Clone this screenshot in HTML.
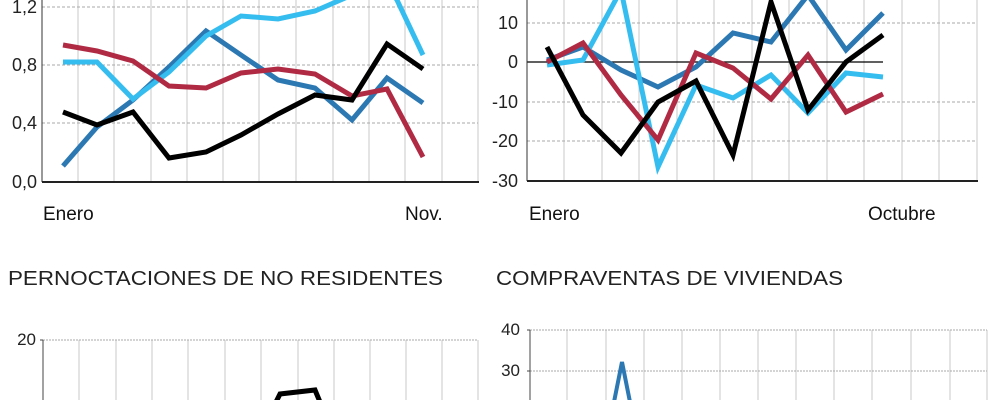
<!DOCTYPE html>
<html><head><meta charset="utf-8"><style>
html,body{margin:0;padding:0;background:#fff;}
svg{display:block;font-family:"Liberation Sans",Arial,sans-serif;}
</style></head><body>
<svg width="990" height="400" viewBox="0 0 990 400" xmlns="http://www.w3.org/2000/svg">
<g stroke="#c8c8c8" stroke-width="1">
<line x1="78" y1="0" x2="78" y2="182"/><line x1="114" y1="0" x2="114" y2="182"/><line x1="151" y1="0" x2="151" y2="182"/><line x1="187" y1="0" x2="187" y2="182"/><line x1="223" y1="0" x2="223" y2="182"/><line x1="259" y1="0" x2="259" y2="182"/><line x1="296" y1="0" x2="296" y2="182"/><line x1="333" y1="0" x2="333" y2="182"/><line x1="369" y1="0" x2="369" y2="182"/><line x1="405" y1="0" x2="405" y2="182"/><line x1="442" y1="0" x2="442" y2="182"/><line x1="478" y1="0" x2="478" y2="182"/>
</g>
<g stroke="#aaa" stroke-width="1" stroke-dasharray="3,2">
<line x1="42" y1="7" x2="478" y2="7"/><line x1="42" y1="65" x2="478" y2="65"/><line x1="42" y1="123" x2="478" y2="123"/>
</g>
<line x1="42" y1="0" x2="42" y2="182" stroke="#333" stroke-width="1"/>
<line x1="42" y1="182" x2="479" y2="182" stroke="#222" stroke-width="2"/>
<g font-size="18" fill="#222" text-anchor="end">
<text x="37" y="13">1,2</text><text x="37" y="71">0,8</text><text x="37" y="129">0,4</text><text x="37" y="188">0,0</text>
</g>
<g fill="none" stroke-width="5">
<polyline stroke="#2b78b3" points="63,166 97,127 133,100 169,67 206,31 241,55 278,80 315,88 352,120 387,78 423,103"/>
<polyline stroke="#36bdf0" points="63,62 97,62 133,99 169,72 206,36 241,16 278,19 315,11 352,-5 387,-15 397,0 423,55"/>
<polyline stroke="#b02a44" points="63,45 97,51 133,61 169,86 206,88 241,73 278,69 315,74 352,96 387,89 423,157"/>
<polyline stroke="#000" points="63,112 97,125 133,112 169,158 206,152 241,135 278,114 315,95 352,100 387,44 423,69"/>
</g>
<text x="43" y="220" font-size="19" fill="#111">Enero</text>
<text x="405" y="220" font-size="19" fill="#111">Nov.</text>

<g stroke="#c8c8c8" stroke-width="1">
<line x1="564" y1="0" x2="564" y2="181"/><line x1="602" y1="0" x2="602" y2="181"/><line x1="639" y1="0" x2="639" y2="181"/><line x1="677" y1="0" x2="677" y2="181"/><line x1="714" y1="0" x2="714" y2="181"/><line x1="752" y1="0" x2="752" y2="181"/><line x1="789" y1="0" x2="789" y2="181"/><line x1="827" y1="0" x2="827" y2="181"/><line x1="864" y1="0" x2="864" y2="181"/><line x1="902" y1="0" x2="902" y2="181"/><line x1="939" y1="0" x2="939" y2="181"/><line x1="977" y1="0" x2="977" y2="181"/>
</g>
<g stroke="#aaa" stroke-width="1" stroke-dasharray="3,2">
<line x1="527" y1="23" x2="977" y2="23"/><line x1="527" y1="102" x2="977" y2="102"/><line x1="527" y1="141" x2="977" y2="141"/>
</g>
<line x1="527" y1="62" x2="883" y2="62" stroke="#000" stroke-width="1.2"/>
<line x1="527" y1="0" x2="527" y2="181" stroke="#333" stroke-width="1"/>
<line x1="527" y1="181" x2="978" y2="181" stroke="#222" stroke-width="2"/>
<g font-size="18" fill="#222" text-anchor="end">
<text x="518" y="29">10</text><text x="518" y="68">0</text><text x="518" y="108">-10</text><text x="518" y="147">-20</text><text x="518" y="187">-30</text>
</g>
<g fill="none" stroke-width="5">
<polyline stroke="#2b78b3" points="547,60 583,47 621,70 658,87 696,67 733,33 771,42 808,-5 846,50 883,13"/>
<polyline stroke="#36bdf0" points="547,65 583,60 621,-10 658,167 696,85 733,98 771,75 808,113 846,73 883,77"/>
<polyline stroke="#b02a44" points="547,62 583,43 621,95 658,140 696,53 733,68 771,99 808,55 846,112 883,94"/>
<polyline stroke="#000" points="547,47 583,115 621,153 658,102 696,81 733,155 771,2 808,110 846,62 883,35"/>
</g>
<text x="529" y="220" font-size="19" fill="#111">Enero</text>
<text x="868" y="220" font-size="19" fill="#111">Octubre</text>

<text x="8" y="285" font-size="20" fill="#222" textLength="435" lengthAdjust="spacingAndGlyphs">PERNOCTACIONES DE NO RESIDENTES</text>
<text x="496" y="285" font-size="20" fill="#222" textLength="347" lengthAdjust="spacingAndGlyphs">COMPRAVENTAS DE VIVIENDAS</text>

<g stroke="#c8c8c8" stroke-width="1">
<line x1="79" y1="340" x2="79" y2="400"/><line x1="116" y1="340" x2="116" y2="400"/><line x1="152" y1="340" x2="152" y2="400"/><line x1="188" y1="340" x2="188" y2="400"/><line x1="225" y1="340" x2="225" y2="400"/><line x1="261" y1="340" x2="261" y2="400"/><line x1="298" y1="340" x2="298" y2="400"/><line x1="334" y1="340" x2="334" y2="400"/><line x1="370" y1="340" x2="370" y2="400"/><line x1="406" y1="340" x2="406" y2="400"/><line x1="442" y1="340" x2="442" y2="400"/><line x1="478" y1="340" x2="478" y2="400"/>
</g>
<line x1="43" y1="340" x2="478" y2="340" stroke="#aaa" stroke-width="1" stroke-dasharray="2,1"/>
<line x1="43" y1="340" x2="43" y2="400" stroke="#444" stroke-width="1"/>
<line x1="40" y1="340" x2="43" y2="340" stroke="#444" stroke-width="1"/>
<text x="36" y="345" font-size="17" fill="#222" text-anchor="end">20</text>
<polyline fill="none" stroke="#000" stroke-width="5" points="276,402 280,394 315,390 320,402"/>

<g stroke="#c8c8c8" stroke-width="1">
<line x1="567" y1="330" x2="567" y2="400"/><line x1="606" y1="330" x2="606" y2="400"/><line x1="644" y1="330" x2="644" y2="400"/><line x1="682" y1="330" x2="682" y2="400"/><line x1="720" y1="330" x2="720" y2="400"/><line x1="758" y1="330" x2="758" y2="400"/><line x1="796" y1="330" x2="796" y2="400"/><line x1="834" y1="330" x2="834" y2="400"/><line x1="872" y1="330" x2="872" y2="400"/><line x1="911" y1="330" x2="911" y2="400"/><line x1="950" y1="330" x2="950" y2="400"/><line x1="987" y1="330" x2="987" y2="400"/>
</g>
<g stroke="#aaa" stroke-width="1" stroke-dasharray="2,1">
<line x1="530" y1="330" x2="987" y2="330"/><line x1="530" y1="371" x2="987" y2="371"/>
</g>
<line x1="530" y1="330" x2="530" y2="400" stroke="#444" stroke-width="1"/>
<line x1="527" y1="330" x2="530" y2="330" stroke="#444"/><line x1="527" y1="371" x2="530" y2="371" stroke="#444"/>
<text x="520" y="335" font-size="17" fill="#222" text-anchor="end">40</text>
<text x="520" y="376" font-size="17" fill="#222" text-anchor="end">30</text>
<polyline fill="none" stroke="#2b78b3" stroke-width="4" points="614,402 622,362 630,402"/>
</svg>
</body></html>
